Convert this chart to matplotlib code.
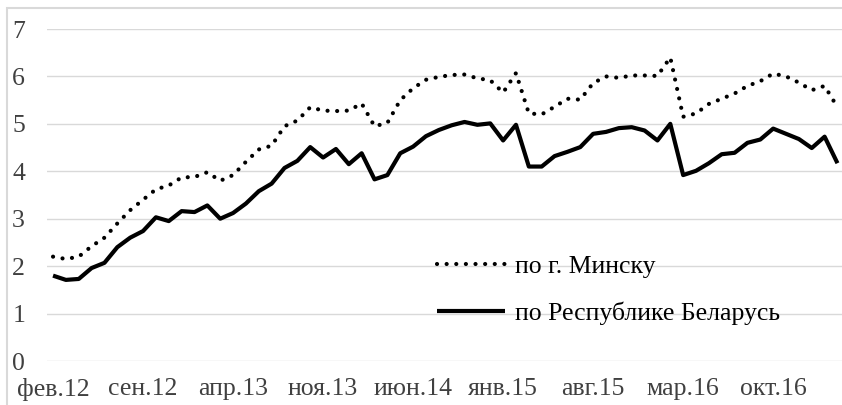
import matplotlib.pyplot as plt
from matplotlib.patches import Rectangle

# months from фев.12 to мар.17
month_names = ["янв", "фев", "мар", "апр", "май", "июн",
               "июл", "авг", "сен", "окт", "ноя", "дек"]
start_year, start_month = 2012, 2
n_months = 62

minsk = [
    2.20, 2.15, 2.20, 2.42, 2.60, 2.90, 3.18, 3.40, 3.62, 3.70,
    3.87, 3.88, 3.98, 3.80, 3.92, 4.20, 4.46, 4.54, 4.95, 5.07,
    5.35, 5.28, 5.27, 5.28, 5.43, 4.95, 5.02, 5.50, 5.75, 5.93,
    5.99, 6.03, 6.04, 5.96, 5.92, 5.66, 6.07, 5.22, 5.20, 5.36,
    5.53, 5.51, 5.86, 6.00, 5.97, 6.02, 6.02, 6.01, 6.40, 5.15,
    5.22, 5.42, 5.53, 5.64, 5.80, 5.90, 6.06, 6.00, 5.87, 5.71,
    5.80, 5.35,
]
belarus = [
    1.80, 1.71, 1.73, 1.96, 2.07, 2.40, 2.60, 2.74, 3.03, 2.95,
    3.16, 3.14, 3.28, 3.00, 3.12, 3.32, 3.58, 3.74, 4.07, 4.22,
    4.51, 4.29, 4.47, 4.15, 4.38, 3.83, 3.92, 4.38, 4.52, 4.74,
    4.87, 4.97, 5.04, 4.98, 5.01, 4.65, 4.98, 4.10, 4.10, 4.32,
    4.41, 4.51, 4.79, 4.83, 4.91, 4.93, 4.86, 4.65, 5.00, 3.92,
    4.01, 4.17, 4.36, 4.39, 4.60, 4.67, 4.90, 4.79, 4.68, 4.49,
    4.73, 4.17,
]
label_minsk = "по г. Минску"
label_belarus = "по Республике Беларусь"

labels = []
for i in range(n_months):
    m = (start_month - 1 + i) % 12
    y = start_year + (start_month - 1 + i) // 12
    labels.append(f"{month_names[m]}.{y % 100:02d}")
tick_idx = list(range(0, n_months, 7))

plt.rcParams["font.family"] = ["Liberation Serif", "DejaVu Serif"]

W, H = 842, 405
fs = 18.5
fig = plt.figure(figsize=(W / 100, H / 100), dpi=100)

# chart frame (only top and left edges are inside the picture)
fig.patches.append(Rectangle((7 / W, -0.1), 1.2, (H - 8) / H + 0.1,
                             transform=fig.transFigure, fill=False,
                             edgecolor="#d9d9d9", lw=1.5))

left_px, right_px = 46.6, 843.9
ax = fig.add_axes([left_px / W, (H - 361) / H,
                   (right_px - left_px) / W, (361 - 29) / H])

x = list(range(n_months))
ax.plot(x, minsk, color="black", lw=3.0, linestyle=(0, (0.01, 2.3)),
        dash_capstyle="round", label=label_minsk)
ax.plot(x, belarus, color="black", lw=3.0, solid_joinstyle="round",
        solid_capstyle="butt", label=label_belarus)

ax.set_xlim(-0.5, n_months - 0.5)
ax.set_ylim(0, 7)
ax.set_yticks(range(0, 8))
ax.set_xticks(tick_idx)
ax.set_xticklabels([labels[i] for i in tick_idx])
ax.grid(axis="y", color="#d9d9d9", lw=1.0)
ax.set_axisbelow(True)
for s in ax.spines.values():
    s.set_visible(False)
ax.tick_params(axis="both", length=0, labelsize=fs, colors="#404040")
ax.tick_params(axis="y", pad=15.5)
ax.tick_params(axis="x", pad=12)

fig.legend(loc="center left", bbox_to_anchor=(437 / W, (H - 290) / H),
           frameon=False, fontsize=fs, handlelength=2.65,
           handletextpad=0.4, labelspacing=0.88, borderpad=0,
           borderaxespad=0)

fig.savefig("out.png", dpi=100)
